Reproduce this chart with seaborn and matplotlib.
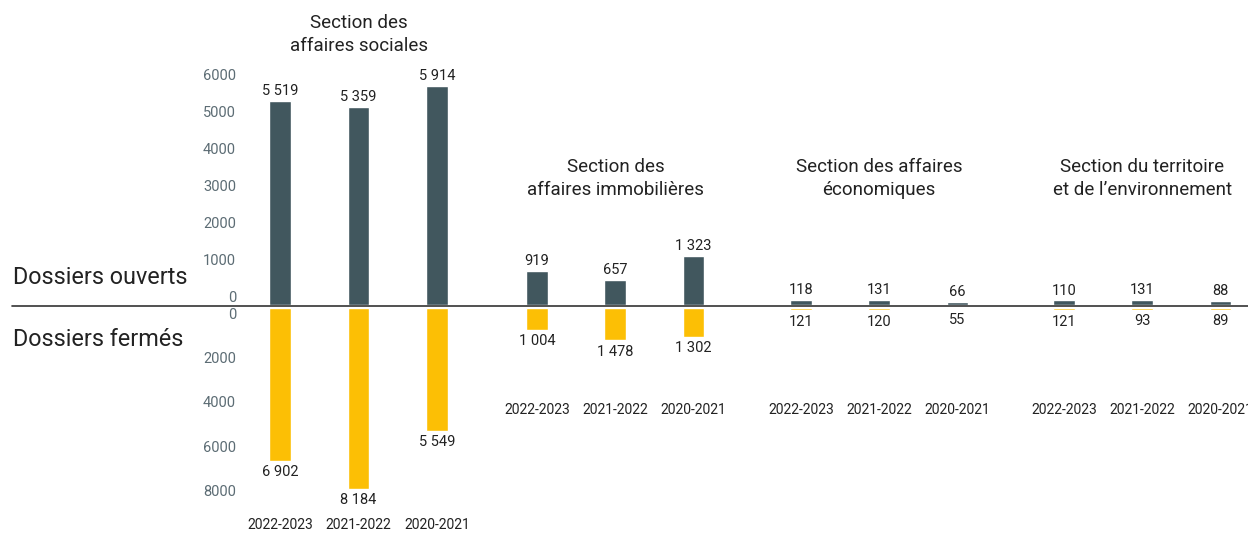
import matplotlib
matplotlib.use("Agg")
import matplotlib.pyplot as plt
import matplotlib.transforms as mtransforms
from matplotlib.lines import Line2D
import seaborn as sns
import pandas as pd

# ---------------- data ----------------
sections = [
    "Section des\naffaires sociales",
    "Section des\naffaires immobilières",
    "Section des affaires\néconomiques",
    "Section du territoire\net de l\u2019environnement",
]
years = ["2022-2023", "2021-2022", "2020-2021"]
ouverts = [
    [5519, 5359, 5914],
    [919, 657, 1323],
    [118, 131, 66],
    [110, 131, 88],
]
fermes = [
    [6902, 8184, 5549],
    [1004, 1478, 1302],
    [121, 120, 55],
    [121, 93, 89],
]
top_ticks = [0, 1000, 2000, 3000, 4000, 5000, 6000]
bottom_ticks = [0, 2000, 4000, 6000, 8000]

# ---------------- style ----------------
DARK = "#41575e"
YELLOW = "#fcbf05"
TEXT = "#222222"
TICK = "#5c6c74"

sns.set_theme(style="white")
plt.rcParams["font.family"] = ["Roboto", "DejaVu Sans"]

# layout: extra spacing before each group (in bar-spacing units)
group_gaps = [0.0, 0.28, 0.37, 0.36]

rows = []
offset = 0.0
for g, sec in enumerate(sections):
    offset += group_gaps[g]
    for j, yr in enumerate(years):
        rows.append({"section": sec, "year": yr, "group": g,
                     "pos": offset + g * 3 + j,
                     "ouverts": ouverts[g][j], "fermes": fermes[g][j]})
df = pd.DataFrame(rows)

W, H = 1248, 533
fig = plt.figure(figsize=(W / 100, H / 100), dpi=100)

left_px = 242
x0_px, unit_px = 280.2, 78.3
xlim = ((left_px - x0_px) / unit_px, (W - x0_px) / unit_px)

top_bottom_px = 304.5
bot_top_px = 307.7
ax_top = fig.add_axes([left_px / W, 1 - top_bottom_px / H, 1 - left_px / W, top_bottom_px / H])
ax_bot = fig.add_axes([left_px / W, 0, 1 - left_px / W, (H - bot_top_px) / H])

sns.barplot(data=df, x="pos", y="ouverts", native_scale=True, color=DARK,
            saturation=1, width=0.277, errorbar=None, ax=ax_top)
sns.barplot(data=df, x="pos", y="fermes", native_scale=True, color=YELLOW,
            saturation=1, width=0.277, errorbar=None, ax=ax_bot)

for ax in (ax_top, ax_bot):
    ax.set_xlim(*xlim)
    ax.set_xticks([])
    ax.set_xlabel("")
    ax.set_ylabel("")
    for s in ax.spines.values():
        s.set_visible(False)
    ax.patch.set_alpha(0)
    ax.tick_params(axis="y", length=0, pad=4.3, labelsize=10.5, labelcolor=TICK)

ax_top.set_ylim(0, top_bottom_px / 36.9 * 1000)
ax_bot.set_ylim((H - bot_top_px) / 22.15 * 1000, 0)

ax_top.set_yticks(top_ticks, [str(t) for t in top_ticks])
ax_bot.set_yticks(bottom_ticks, [str(t) for t in bottom_ticks])
for lbl in ax_top.get_yticklabels():
    lbl.set_va("bottom")
for lbl in ax_bot.get_yticklabels():
    lbl.set_va("top")

def fmt(v):
    return f"{v:,}".replace(",", " ")

ax_top.bar_label(ax_top.containers[0], labels=[fmt(v) for v in df["ouverts"]],
                 padding=2, fontsize=10.5, color=TEXT)
ax_bot.bar_label(ax_bot.containers[0], labels=[fmt(v) for v in df["fermes"]],
                 padding=3, fontsize=10.5, color=TEXT)

# section titles and year labels
tr_bot = mtransforms.blended_transform_factory(ax_bot.transData, fig.transFigure)
tr_top = mtransforms.blended_transform_factory(ax_top.transData, fig.transFigure)
for g, sec in enumerate(sections):
    sub = df[df["group"] == g]
    center = sub["pos"].mean()
    ty = 34.5 if g == 0 else 178.5
    ax_top.text(center, 1 - ty / H, sec, transform=tr_top, ha="center", va="center",
                fontsize=13.5, color=TEXT, linespacing=1.3)
    yy = 525 if g == 0 else 410
    for p, yr in zip(sub["pos"], sub["year"]):
        ax_bot.text(p, 1 - yy / H, yr, transform=tr_bot, ha="center", va="center",
                    fontsize=10, color=TEXT, clip_on=False)

# baseline
fig.add_artist(Line2D([12 / W, 1], [1 - 305.8 / H] * 2, color="#333333", lw=1.2))

fig.text(13 / W, 1 - 278 / H, "Dossiers ouverts", ha="left", va="center",
         fontsize=16.8, color=TEXT)
fig.text(13 / W, 1 - 339 / H, "Dossiers fermés", ha="left", va="center",
         fontsize=16.8, color=TEXT)

fig.savefig("out.png", dpi=100)
